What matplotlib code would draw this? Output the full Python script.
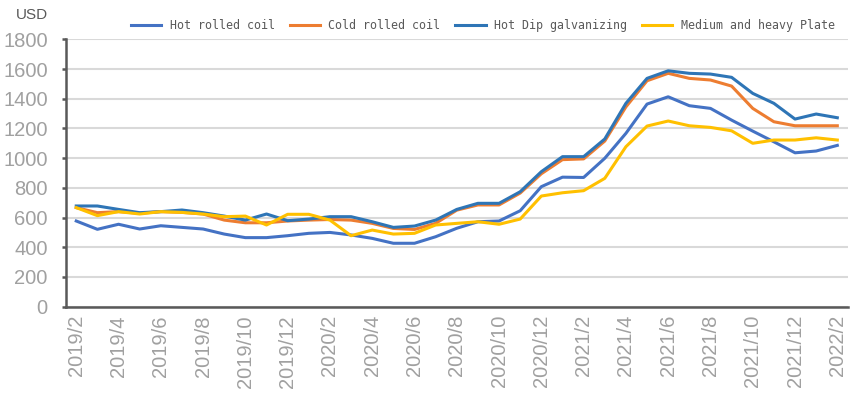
import matplotlib
matplotlib.use("Agg")
import matplotlib.pyplot as plt

months = ["2019/2", "2019/3", "2019/4", "2019/5", "2019/6", "2019/7", "2019/8", "2019/9",
          "2019/10", "2019/11", "2019/12", "2020/1", "2020/2", "2020/3", "2020/4", "2020/5",
          "2020/6", "2020/7", "2020/8", "2020/9", "2020/10", "2020/11", "2020/12", "2021/1",
          "2021/2", "2021/3", "2021/4", "2021/5", "2021/6", "2021/7", "2021/8", "2021/9",
          "2021/10", "2021/11", "2021/12", "2022/1", "2022/2"]

hot_rolled = [577, 521, 555, 523, 545, 534, 523, 489, 465, 465, 478, 494, 500, 483, 460, 427,
              427, 471, 528, 572, 577, 646, 808, 872, 870, 999, 1167, 1364, 1413, 1353, 1335,
              1256, 1182, 1110, 1036, 1048, 1086]
cold_rolled = [667, 633, 640, 629, 640, 635, 624, 583, 565, 565, 577, 583, 587, 583, 561, 527,
               520, 561, 650, 685, 685, 765, 895, 990, 995, 1115, 1345, 1521, 1571, 1537, 1526,
               1485, 1335, 1245, 1218, 1218, 1218]
hot_dip = [678, 678, 655, 633, 640, 651, 633, 610, 583, 624, 579, 590, 606, 606, 572, 534,
           543, 583, 655, 696, 696, 774, 909, 1010, 1010, 1129, 1369, 1537, 1588, 1571, 1566,
           1544, 1436, 1369, 1263, 1297, 1272]
plate = [667, 613, 640, 624, 640, 635, 624, 606, 610, 550, 622, 622, 583, 478, 516, 489,
         494, 550, 561, 572, 555, 590, 745, 767, 781, 864, 1077, 1216, 1250, 1218, 1207,
         1184, 1100, 1122, 1122, 1137, 1122]

series_names = ["Hot rolled coil", "Cold rolled coil", "Hot Dip galvanizing", "Medium and heavy Plate"]
colors = ["#4472C4", "#ED7D31", "#2E75B6", "#FFC000"]
yticks = [0, 200, 400, 600, 800, 1000, 1200, 1400, 1600, 1800]

fig = plt.figure(figsize=(8.53, 3.99), dpi=100)
ax = fig.add_axes([0.077, 0.2313, 0.917, 0.6702])

x = list(range(len(months)))
order = [0, 3, 1, 2]
data = [hot_rolled, cold_rolled, hot_dip, plate]
handles = [None] * 4
for i in order:
    (h,) = ax.plot(x, data[i], color=colors[i], lw=2.2, label=series_names[i],
                   solid_joinstyle="round", zorder=3 + i)
    handles[i] = h

ax.set_xlim(-0.5, len(months) - 0.5)
ax.set_ylim(0, 1800)
ax.set_yticks(yticks)
ax.set_yticklabels([str(v) for v in yticks], fontsize=14.5, color="#A0A0A0",
                   family="Liberation Sans")
ax.set_xticks(x[::2])
ax.set_xticklabels(months[::2], rotation=90, fontsize=14.5, color="#A0A0A0",
                   family="Liberation Sans")
ax.tick_params(axis="x", length=0, pad=6)
ax.tick_params(axis="y", length=3, width=1.8, color="#595959", direction="out", pad=10)
ax.grid(axis="y", color="#D9D9D9", lw=1.5, zorder=0)
ax.set_axisbelow(True)
for s in ["top", "right"]:
    ax.spines[s].set_visible(False)
for s in ["left", "bottom"]:
    ax.spines[s].set_color("#595959")
    ax.spines[s].set_linewidth(1.8)

fig.text(0.038, 0.962, "USD", fontsize=11, color="#595959", ha="center", va="center",
         family="Liberation Sans")

leg = fig.legend(handles, series_names, loc="center", bbox_to_anchor=(0.566, 0.937), ncol=4,
                 frameon=False, prop={"family": "DejaVu Sans Mono", "size": 8.4},
                 handlelength=2.6, handletextpad=0.7, columnspacing=1.3, borderaxespad=0)
for t in leg.get_texts():
    t.set_color("#595959")

fig.savefig("out.png", dpi=100)
